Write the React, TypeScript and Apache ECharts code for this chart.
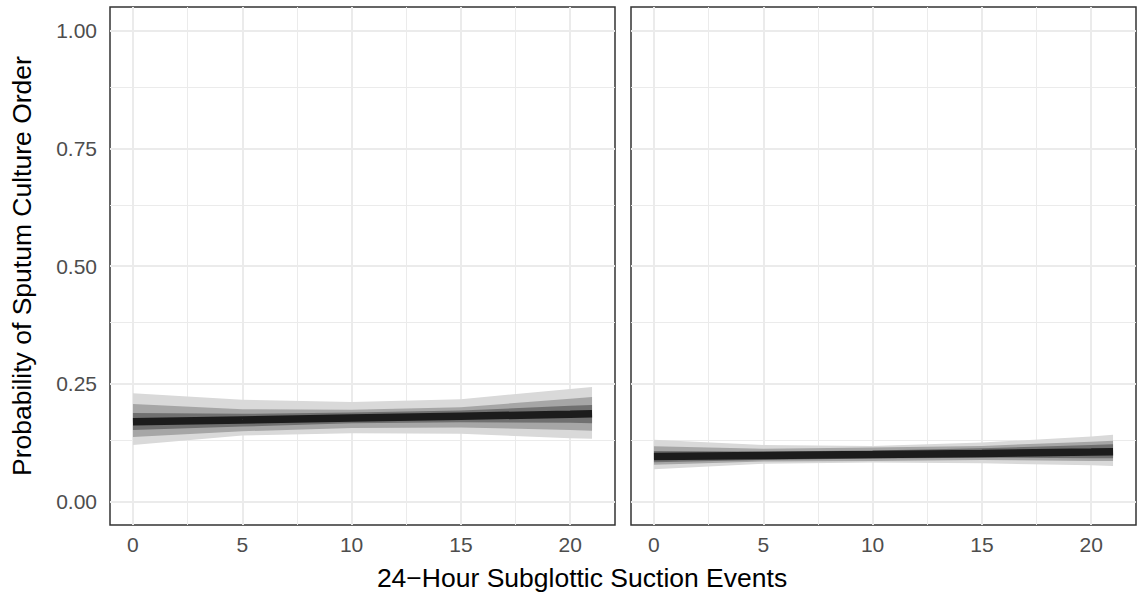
import React, { useEffect, useRef } from "react";
import * as echarts from "echarts";

// ---- data ----
const X_VALUES = [0, 5, 10, 15, 20, 21];
const X_TICKS = [0, 5, 10, 15, 20];
const X_MINOR = [2.5, 7.5, 12.5, 17.5];
const Y_TICKS = [0, 0.25, 0.5, 0.75, 1.0];
const Y_MINOR = [0.125, 0.375, 0.625, 0.875];

const X_TITLE = "24\u2212Hour Subglottic Suction Events";
const Y_TITLE = "Probability of Sputum Culture Order";

// left panel
const LEFT_LINE = [0.169, 0.173, 0.177, 0.181, 0.185, 0.186];
const LEFT_OUTER_LO = [0.12, 0.14, 0.145, 0.144, 0.134, 0.133];
const LEFT_OUTER_HI = [0.23, 0.216, 0.211, 0.217, 0.239, 0.243];
const LEFT_MID_LO = [0.137, 0.149, 0.156, 0.157, 0.152, 0.15];
const LEFT_MID_HI = [0.207, 0.196, 0.195, 0.2, 0.218, 0.222];
const LEFT_INNER_LO = [0.152, 0.159, 0.166, 0.168, 0.167, 0.166];
const LEFT_INNER_HI = [0.188, 0.186, 0.189, 0.193, 0.203, 0.205];

// right panel
const RIGHT_LINE = [0.0953, 0.0975, 0.0996, 0.102, 0.105, 0.1057];
const RIGHT_OUTER_LO = [0.0685, 0.08, 0.0826, 0.081, 0.077, 0.0755];
const RIGHT_OUTER_HI = [0.131, 0.12, 0.118, 0.125, 0.138, 0.1415];
const RIGHT_MID_LO = [0.078, 0.085, 0.086, 0.088, 0.086, 0.086];
const RIGHT_MID_HI = [0.117, 0.112, 0.1145, 0.118, 0.127, 0.129];
const RIGHT_INNER_LO = [0.0834, 0.088, 0.091, 0.093, 0.092, 0.092];
const RIGHT_INNER_HI = [0.107, 0.106, 0.108, 0.113, 0.12, 0.1217];

const FONT = "'Liberation Sans', Arial, Helvetica, sans-serif";
const C_OUTER = "#D9D9D9";
const C_MID = "#A6A6A6";
const C_INNER = "#707070";
const C_LINE = "#1C1C1C";

function bandSeries(idx: number, lo: number[], hi: number[], color: string, z: number) {
  return {
    type: "custom",
    xAxisIndex: idx,
    yAxisIndex: idx,
    silent: true,
    z,
    data: X_VALUES.map((x, i) => [x, lo[i], hi[i]]),
    encode: { x: 0, y: [1, 2] },
    renderItem: (params: any, api: any) => {
      if (params.dataIndex !== 0) return null;
      const top = X_VALUES.map((x, i) => api.coord([x, hi[i]]));
      const bot = X_VALUES.map((x, i) => api.coord([x, lo[i]])).reverse();
      return {
        type: "polygon",
        silent: true,
        shape: { points: [...top, ...bot] },
        style: { fill: color, stroke: null },
      };
    },
  };
}

function gridLines(idx: number) {
  const major = { color: "#EBEBEB", width: 2, type: "solid" };
  const minor = { color: "#EBEBEB", width: 1, type: "solid" };
  return {
    type: "line",
    xAxisIndex: idx,
    yAxisIndex: idx,
    data: [[0, 0]],
    showSymbol: false,
    symbol: "none",
    lineStyle: { opacity: 0 },
    silent: true,
    z: 0,
    markLine: {
      silent: true,
      z: 1,
      symbol: "none",
      label: { show: false },
      animation: false,
      data: [
        ...Y_MINOR.map((v) => ({ yAxis: v, lineStyle: minor })),
        ...X_MINOR.map((v) => ({ xAxis: v, lineStyle: minor })),
        ...Y_TICKS.map((v) => ({ yAxis: v, lineStyle: major })),
        ...X_TICKS.map((v) => ({ xAxis: v, lineStyle: major })),
      ],
    },
  };
}

function lineSeries(idx: number, vals: number[]) {
  return {
    type: "line",
    xAxisIndex: idx,
    yAxisIndex: idx,
    data: X_VALUES.map((x, i) => [x, vals[i]]),
    symbol: "none",
    showSymbol: false,
    silent: true,
    z: 6,
    lineStyle: { color: C_LINE, width: 7.5, cap: "butt" },
  };
}

export default function App() {
  const ref = useRef<HTMLDivElement>(null);

  useEffect(() => {
    if (!ref.current) return;
    const chart = echarts.init(ref.current, undefined, { renderer: "svg" });

    const xAxisBase = (gridIndex: number) => ({
      type: "value",
      gridIndex,
      min: -1.05,
      max: 22.05,
      axisLine: { show: false },
      splitLine: { show: false },
      axisTick: {
        show: true,
        customValues: X_TICKS,
        length: 5,
        lineStyle: { color: "#333333", width: 1.5 },
      },
      axisLabel: {
        show: true,
        customValues: X_TICKS,
        color: "#4D4D4D",
        fontSize: 21,
        fontFamily: FONT,
        margin: 9,
      },
    });

    const option: any = {
      animation: false,
      backgroundColor: "#FFFFFF",
      grid: [
        { left: 110, top: 7, width: 505, height: 518, show: true, borderColor: "#333333", borderWidth: 1.5, backgroundColor: "transparent", containLabel: false },
        { left: 631, top: 7, width: 505, height: 518, show: true, borderColor: "#333333", borderWidth: 1.5, backgroundColor: "transparent", containLabel: false },
      ],
      xAxis: [xAxisBase(0), xAxisBase(1)],
      yAxis: [
        {
          type: "value",
          gridIndex: 0,
          min: -0.05,
          max: 1.05,
          axisLine: { show: false },
          splitLine: { show: false },
          axisTick: {
            show: true,
            customValues: Y_TICKS,
            length: 5,
            lineStyle: { color: "#333333", width: 1.5 },
          },
          axisLabel: {
            show: true,
            customValues: Y_TICKS,
            color: "#4D4D4D",
            fontSize: 21,
            fontFamily: FONT,
            margin: 13,
            formatter: (v: number) => v.toFixed(2),
          },
          name: Y_TITLE,
          nameLocation: "middle",
          nameRotate: 90,
          nameGap: 75,
          nameTextStyle: { color: "#000000", fontSize: 26.5, fontFamily: FONT },
        },
        {
          type: "value",
          gridIndex: 1,
          min: -0.05,
          max: 1.05,
          axisLine: { show: false },
          splitLine: { show: false },
          axisTick: { show: false },
          axisLabel: { show: false },
        },
      ],
      graphic: [
        {
          type: "text",
          x: 582,
          y: 578,
          style: {
            text: X_TITLE,
            fill: "#000000",
            font: `26.5px ${FONT}`,
            textAlign: "center",
            textVerticalAlign: "middle",
          },
        },
      ],
      series: [
        gridLines(0),
        gridLines(1),
        bandSeries(0, LEFT_OUTER_LO, LEFT_OUTER_HI, C_OUTER, 3),
        bandSeries(0, LEFT_MID_LO, LEFT_MID_HI, C_MID, 4),
        bandSeries(0, LEFT_INNER_LO, LEFT_INNER_HI, C_INNER, 5),
        lineSeries(0, LEFT_LINE),
        bandSeries(1, RIGHT_OUTER_LO, RIGHT_OUTER_HI, C_OUTER, 3),
        bandSeries(1, RIGHT_MID_LO, RIGHT_MID_HI, C_MID, 4),
        bandSeries(1, RIGHT_INNER_LO, RIGHT_INNER_HI, C_INNER, 5),
        lineSeries(1, RIGHT_LINE),
      ],
    };

    chart.setOption(option);
    return () => chart.dispose();
  }, []);

  return (
    <div
      ref={ref}
      style={{ position: "fixed", left: 0, top: 0, width: 1137, height: 595, background: "#fff" }}
    />
  );
}
